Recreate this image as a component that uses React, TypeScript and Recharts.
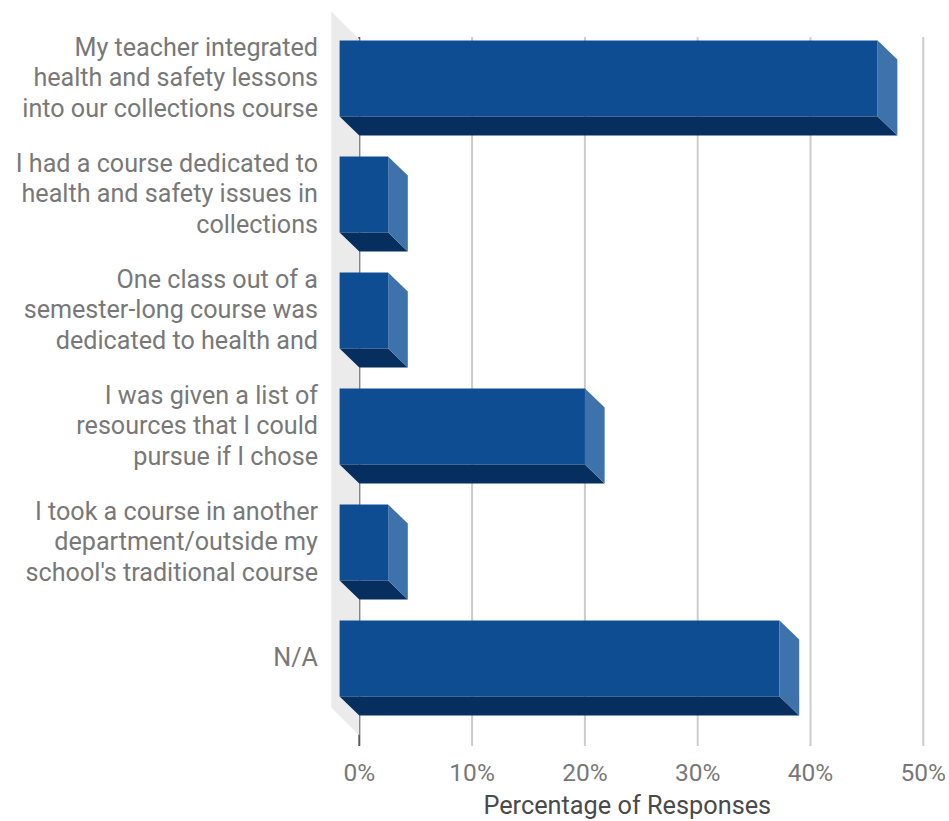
import React from "react";
import { BarChart, Bar, XAxis, YAxis, CartesianGrid, ReferenceArea, Label } from "recharts";

const categories = [
  "My teacher integrated\nhealth and safety lessons\ninto our collections course",
  "I had a course dedicated to\nhealth and safety issues in\ncollections",
  "One class out of a\nsemester-long course was\ndedicated to health and",
  "I was given a list of\nresources that I could\npursue if I chose",
  "I took a course in another\ndepartment/outside my\nschool's traditional course",
  "N/A",
];
const responses = [47.7, 4.3, 4.3, 21.75, 4.3, 39];
const xTicks = [0, 10, 20, 30, 40, 50];
const data = categories.map((category, i) => ({ category, value: responses[i] }));

const DX = 19.7;
const DY = 19;
const FONT = "Roboto, sans-serif";

function Bar3D(props: any) {
  const { x, y, width, height } = props;
  const fx = x - DX;
  const fy = y - DY;
  const r = x + width;
  const b = y + height;
  return (
    <g>
      <rect x={fx} y={fy} width={width} height={height} fill="#0e4d92" />
      <polygon points={`${fx},${b - DY} ${r - DX},${b - DY} ${r},${b} ${x},${b}`} fill="#062e5e" />
      <polygon points={`${r - DX},${fy} ${r},${y} ${r},${b} ${r - DX},${b - DY}`} fill="#3e72ab" />
    </g>
  );
}

function Wall(props: any) {
  const { x, y, height } = props;
  const d = 28;
  return (
    <polygon
      points={`${x - d},${y - d} ${x},${y} ${x},${y + height} ${x - d},${y + height - d}`}
      fill="#ebebeb"
    />
  );
}

function GridLine(props: any) {
  const { x1, x2, y1, y2, index } = props;
  return (
    <line
      x1={x1}
      x2={x2}
      y1={y1}
      y2={y2}
      stroke={index === 0 ? "#5a5a5a" : "#cccccc"}
      strokeWidth={2}
    />
  );
}

function CategoryTick(props: any) {
  const { x, y, payload } = props;
  const lines = String(payload.value).split("\n");
  const lh = 30.6;
  const start = y - DY - 1 - ((lines.length - 1) * lh) / 2;
  return (
    <text x={x} textAnchor="end" fontFamily={FONT} fontSize={25.15} fill="#787878">
      {lines.map((l, i) => (
        <tspan key={i} x={x} y={start + i * lh} dy="0.35em">
          {l}
        </tspan>
      ))}
    </text>
  );
}

export default function App() {
  return (
    <div style={{ position: "absolute", left: 0, top: 0, width: 949, height: 821, background: "#fff" }}>
      <BarChart
        width={949}
        height={821}
        data={data}
        layout="vertical"
        barSize={76}
        margin={{ top: 37, right: 25.7, bottom: 0, left: 0 }}
      >
        <ReferenceArea x1={0} x2={50} shape={<Wall />} ifOverflow="visible" />
        <CartesianGrid horizontal={false} vertical={(p: any) => <GridLine {...p} />} />
        <XAxis
          type="number"
          dataKey="value"
          domain={[0, 50]}
          ticks={xTicks}
          interval={0}
          tickFormatter={(v: number) => `${v}%`}
          axisLine={false}
          tickLine={false}
          height={75}
          tickMargin={12}
          tick={{ fontFamily: FONT, fontSize: 24.5, fill: "#787878" }}
        >
          <Label
            value="Percentage of Responses"
            position="insideBottom"
            dx={-14}
            offset={7}
            style={{ fontFamily: FONT, fontSize: 25.3, fill: "#4a4a4a" }}
          />
        </XAxis>
        <YAxis
          type="category"
          dataKey="category"
          width={359.3}
          axisLine={false}
          tickLine={false}
          tickMargin={0}
          interval={0}
          padding={{ top: 2.5, bottom: 10.5 }}
          tick={(p: any) => <CategoryTick {...p} x={318} />}
        />
        <Bar dataKey="value" shape={<Bar3D />} isAnimationActive={false} />
      </BarChart>
    </div>
  );
}
